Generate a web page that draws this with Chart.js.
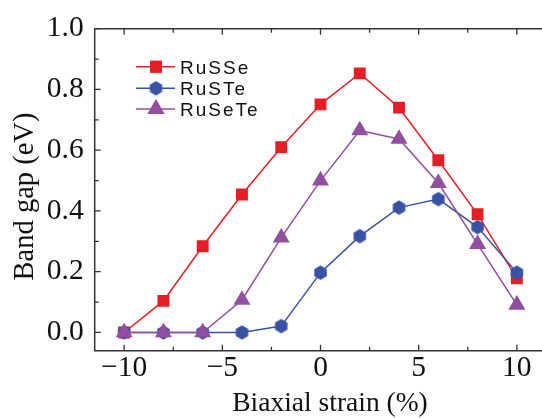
<!DOCTYPE html>
<html>
<head>
<meta charset="utf-8">
<script src="https://cdn.jsdelivr.net/npm/chart.js@4.4.0/dist/chart.umd.min.js"></script>
<style>
html, body { margin: 0; padding: 0; background: #fff; overflow: hidden; }
#wrap { width: 542px; height: 418px; overflow: hidden; }
</style>
</head>
<body>
<div id="wrap"><canvas id="bandChart" width="562" height="418"></canvas></div>
<script>
// values
const strain = [-10, -8, -6, -4, -2, 0, 2, 4, 6, 8, 10];
const ruSSe  = [0, 0.104, 0.284, 0.454, 0.610, 0.751, 0.853, 0.740, 0.567, 0.389, 0.178];
const ruSTe  = [0, 0, 0, 0, 0.021, 0.197, 0.317, 0.411, 0.439, 0.347, 0.197];
const ruSeTe = [0, 0, 0, 0.107, 0.312, 0.500, 0.665, 0.637, 0.492, 0.291, 0.091];

const xTicks = [-10, -5, 0, 5, 10];
const xMinor = [-7.5, -2.5, 2.5, 7.5];
const yTicks = [0, 0.2, 0.4, 0.6, 0.8, 1.0];
const yMinor = [0.1, 0.3, 0.5, 0.7, 0.9];

const RED = '#e31e25', BLUE = '#3953a4', PURPLE = '#904f9f';
const SERIF = '"Liberation Serif", "Times New Roman", serif';

// hexagon marker (pointy top)
function hexagon(color, r) {
    let c = document.createElement('canvas');
    let s = Math.ceil(r * 2 + 2);
    c.width = s; c.height = s;
    let g = c.getContext('2d');
    g.beginPath();
    for (let i = 0; i < 6; i++) {
        let a = -Math.PI / 2 + i * Math.PI / 3;
        let px = s / 2 + r * Math.cos(a), py = s / 2 + r * Math.sin(a);
        i ? g.lineTo(px, py) : g.moveTo(px, py);
    }
    g.closePath();
    g.fillStyle = color;
    g.fill();
    return c;
}
const hexBlue = hexagon(BLUE, 7.2);

const series = [
    { label: 'RuSSe',  values: ruSSe,  color: RED,    style: 'rect',     radius: 8.4, order: 3 },
    { label: 'RuSTe',  values: ruSTe,  color: BLUE,   style: hexBlue,    radius: 7,   order: 2 },
    { label: 'RuSeTe', values: ruSeTe, color: PURPLE, style: 'triangle', radius: 9.8, order: 1 }
];

const decorPlugin = {
    id: 'decor',
    afterDraw(chart) {
        let ctx = chart.ctx;
        let a = chart.chartArea;
        let xs = chart.scales.x, ys = chart.scales.y;
        ctx.save();
        ctx.strokeStyle = '#333';
        ctx.lineWidth = 1.5;
        // frame (right side falls outside the picture)
        ctx.beginPath();
        ctx.moveTo(chart.width, a.top);
        ctx.lineTo(a.left, a.top);
        ctx.lineTo(a.left, a.bottom);
        ctx.lineTo(chart.width, a.bottom);
        ctx.stroke();
        // inward ticks
        ctx.lineWidth = 1.3;
        ctx.beginPath();
        const xt = (v, len) => {
            let p = xs.getPixelForValue(v);
            ctx.moveTo(p, a.bottom); ctx.lineTo(p, a.bottom - len);
            ctx.moveTo(p, a.top); ctx.lineTo(p, a.top + len);
        };
        const yt = (v, len) => {
            let p = ys.getPixelForValue(v);
            ctx.moveTo(a.left, p); ctx.lineTo(a.left + len, p);
        };
        xTicks.forEach(v => xt(v, 6));
        xMinor.forEach(v => xt(v, 4));
        yTicks.forEach(v => yt(v, 6));
        yMinor.forEach(v => yt(v, 4));
        ctx.stroke();

        // axis titles
        ctx.fillStyle = '#111';
        ctx.font = '27.5px ' + SERIF;
        ctx.textAlign = 'center';
        ctx.textBaseline = 'alphabetic';
        ctx.fillText('Biaxial strain (%)', 330, 411);
        ctx.save();
        ctx.translate(33.3, 196.5);
        ctx.rotate(-Math.PI / 2);
        ctx.font = '28.5px ' + SERIF;
        ctx.fillText('Band gap (eV)', 0, 0);
        ctx.restore();

        // legend
        let rows = [66.7, 88.3, 109];
        ctx.font = '19px "Liberation Sans", Arial, sans-serif';
        ctx.textAlign = 'left';
        ctx.letterSpacing = '2px';
        series.forEach((s, i) => {
            let y = rows[i];
            ctx.strokeStyle = s.color;
            ctx.lineWidth = 1.5;
            ctx.beginPath();
            ctx.moveTo(136, y); ctx.lineTo(175, y);
            ctx.stroke();
            ctx.fillStyle = s.color;
            Chart.helpers.drawPoint(ctx, {
                pointStyle: s.style, radius: s.radius, borderWidth: 0, rotation: 0
            }, 156, y);
            if (typeof s.style === 'string') {
                ctx.fill();
            }
            ctx.fillStyle = '#111';
            ctx.fillText(s.label, 180, y + 7);
        });
        ctx.restore();
    }
};

new Chart(document.getElementById('bandChart'), {
    type: 'line',
    data: {
        datasets: series.map(s => ({
            label: s.label,
            data: strain.map((x, i) => ({ x: x, y: s.values[i] })),
            borderColor: s.color,
            backgroundColor: s.color,
            borderWidth: 1.5,
            pointStyle: s.style,
            pointRadius: s.radius,
            pointHoverRadius: s.radius,
            pointBorderWidth: 0,
            pointBackgroundColor: s.color,
            tension: 0,
            order: s.order
        }))
    },
    options: {
        responsive: false,
        animation: false,
        devicePixelRatio: 1,
        layout: { padding: { top: 20.7, left: 0, right: 5.3, bottom: 0 } },
        plugins: { legend: { display: false }, tooltip: { enabled: false } },
        scales: {
            x: {
                type: 'linear',
                min: -11.5,
                max: 11.8,
                grid: { display: false, drawTicks: false },
                border: { display: false },
                afterBuildTicks: sc => { sc.ticks = xTicks.map(v => ({ value: v })); },
                afterFit: sc => { sc.height = 418 - 350.7; },
                ticks: {
                    padding: 0,
                    color: '#111',
                    font: { family: SERIF, size: 29.5 },
                    maxRotation: 0,
                    callback: v => v < 0 ? '\u2212' + Math.abs(v) : String(v)
                }
            },
            y: {
                type: 'linear',
                min: -0.06,
                max: 1.0,
                grid: { display: false, drawTicks: false },
                border: { display: false },
                afterBuildTicks: sc => { sc.ticks = yTicks.map(v => ({ value: v })); },
                afterFit: sc => { sc.width = 94.7; },
                ticks: {
                    padding: 11,
                    color: '#111',
                    font: { family: SERIF, size: 29.5 },
                    callback: v => v.toFixed(1)
                }
            }
        }
    },
    plugins: [decorPlugin]
});
</script>
</body>
</html>
